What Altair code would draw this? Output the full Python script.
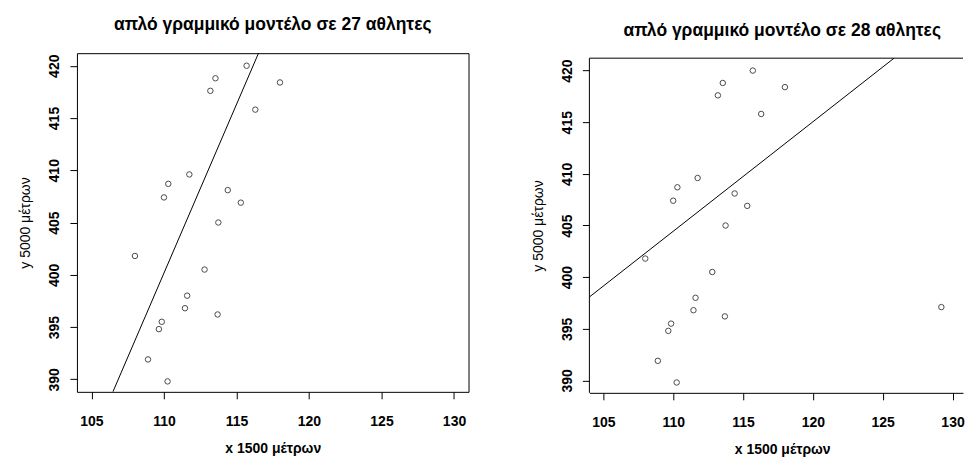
import altair as alt
import pandas as pd

# values
x_1500 = [115.7, 113.55, 113.2, 118.0, 116.3, 111.75, 110.3, 110.0, 114.4, 115.3,
          113.75, 108.0, 112.8, 111.6, 111.45, 113.7, 109.85, 109.65, 108.9, 110.25]
y_5000 = [420.0, 418.8, 417.6, 418.4, 415.8, 409.6, 408.7, 407.4, 408.1, 406.9,
          405.0, 401.8, 400.5, 398.0, 396.8, 396.2, 395.5, 394.8, 391.9, 389.8]
extra_x = [129.2]
extra_y = [397.1]

titles = ["απλό γραμμικό μοντέλο σε 27 αθλητες", "απλό γραμμικό μοντέλο σε 28 αθλητες"]
intercepts = [45.19, 287.84]
slopes = [3.227, 1.060]
x_ticks = [105, 110, 115, 120, 125, 130]
y_ticks = [390, 395, 400, 405, 410, 415, 420]

FONT = "Liberation Sans"
Y_LO, Y_HI = 388.8, 421.2


def panel(xs, ys, a, b, title, xdom, w, h, title_offset, top_gap=0,
          open_right=False, center_shift=0):
    pts = pd.DataFrame({"x": xs, "y": ys})
    # fitted line, cut to the visible box
    x0, x1 = xdom
    if a + b * x1 > Y_HI:
        x1 = (Y_HI - a) / b
    if a + b * x0 < Y_LO:
        x0 = (Y_LO - a) / b
    line = pd.DataFrame({"x": [x0, x1], "y": [a + b * x0, a + b * x1]})
    # extra blank space above the frame (top_gap px)
    y_top = Y_HI + top_gap * (Y_HI - Y_LO) / (h - top_gap)
    xsc = alt.Scale(domain=list(xdom), nice=False, zero=False)
    ysc = alt.Scale(domain=[Y_LO, y_top], nice=False, zero=False)
    xax = alt.Axis(values=x_ticks, grid=False, domain=open_right, domainColor="black",
                   tickSize=7, tickColor="black", labelColor="black",
                   labelFont=FONT, labelFontSize=14, labelFontWeight="bold",
                   labelPadding=16, title="x 1500 μέτρων", titleFont=FONT,
                   titleFontSize=14, titleFontWeight="bold", titleColor="black",
                   titleX=w / 2 + center_shift, titleY=57, titleBaseline="middle",
                   titleAlign="center")
    yax = alt.Axis(values=y_ticks, grid=False, domain=False,
                   tickSize=7, tickColor="black", labelColor="black",
                   labelFont=FONT, labelFontSize=14, labelFontWeight="bold",
                   labelAngle=270, labelAlign="center", labelBaseline="bottom",
                   labelPadding=8, title="y 5000 μέτρων", titleFont=FONT,
                   titleFontSize=14, titleFontWeight="normal", titleColor="black",
                   titleAngle=270, titleX=-51, titleY=top_gap + (h - top_gap) / 2,
                   titleBaseline="middle", titleAlign="center")
    p = alt.Chart(pts).mark_point(shape="circle", filled=False, color="black",
                                  strokeWidth=1, size=30).encode(
        x=alt.X("x:Q", scale=xsc, axis=xax),
        y=alt.Y("y:Q", scale=ysc, axis=yax),
    )
    l = alt.Chart(line).mark_line(color="black", strokeWidth=1, clip=True).encode(
        x=alt.X("x:Q", scale=xsc),
        y=alt.Y("y:Q", scale=ysc),
    )
    layers = [p, l]
    if open_right:
        dummy = pd.DataFrame({"k": [0]})
        top = alt.Chart(dummy).mark_rule(color="black", strokeWidth=1).encode(
            x=alt.value(0), x2=alt.value(w), y=alt.value(top_gap))
        lft = alt.Chart(dummy).mark_rule(color="black", strokeWidth=1).encode(
            x=alt.value(0), y=alt.value(top_gap), y2=alt.value(h))
        layers += [top, lft]
    ch = alt.layer(*layers).properties(
        width=w, height=h,
        title=alt.TitleParams(title, font=FONT, fontSize=17.5, fontWeight="bold",
                              color="black", offset=title_offset, anchor="middle",
                              dx=center_shift),
    )
    if open_right:
        ch = ch.properties(view=alt.ViewBackground(stroke=None))
    return ch


left = panel(x_1500, y_5000, intercepts[0], slopes[0], titles[0],
             (104.0, 131.0), 392, 339, 20)
right = panel(x_1500 + extra_x, y_5000 + extra_y, intercepts[1], slopes[1], titles[1],
              (104.0, 130.75), 374, 340, 14, top_gap=5, open_right=True,
              center_shift=6)

chart = alt.hconcat(left, right, spacing=62).configure_view(
    stroke="black", strokeWidth=1
).properties(
    padding={"left": 10, "top": 7, "right": 0, "bottom": 0},
    background="white",
)

chart.save("out.html", embed_options={"renderer": "svg", "actions": False})
